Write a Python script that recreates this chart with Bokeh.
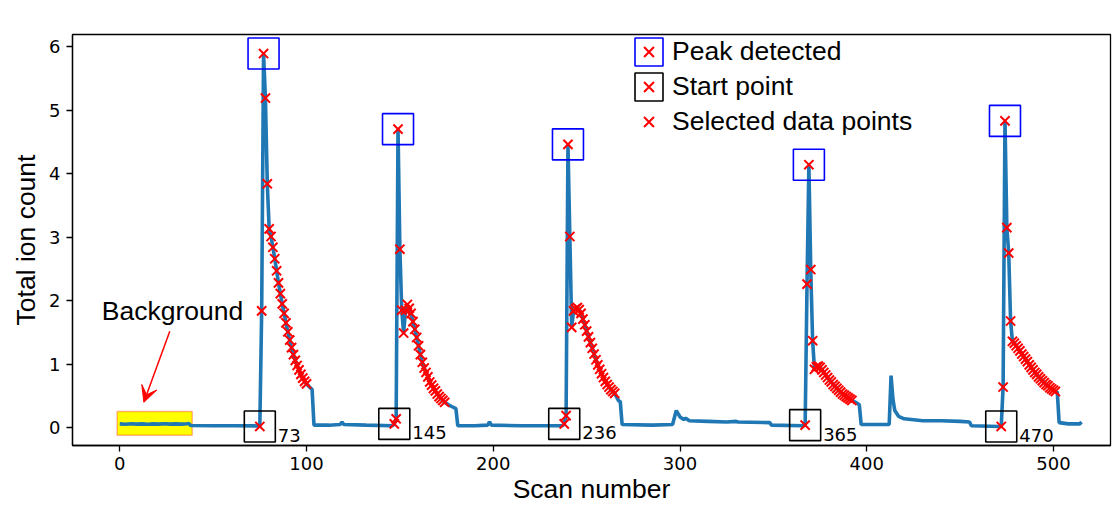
from bokeh.plotting import figure
from bokeh.models import (Legend, LegendItem, Label, Arrow, VeeHead, BoxAnnotation,
                          FixedTicker, ColumnDataSource, Range1d)
from bokeh.embed import file_html
from bokeh.resources import INLINE
from bokeh.core.properties import value

# ---------------- data (total ion count in units of 1e9) ----------------
scan = [0, 3, 6, 9, 12, 15, 18, 21, 24, 27, 30, 33, 36, 37, 38,
        50, 62, 74,
        75, 76, 77, 78, 79,
        80, 81, 82, 83, 84, 85, 86, 87, 88, 89, 90, 91, 92, 93, 94, 95, 96, 97, 98, 99, 100,
        101, 102, 103, 104,
        112, 118, 119, 120, 132, 146,
        147, 148, 149, 150,
        151, 152, 153, 154, 155, 156, 157, 158, 159, 160, 161, 162, 163, 164, 165, 166, 167, 168,
        169, 170, 171, 172, 173, 174,
        176, 178, 180, 181,
        190, 197, 198, 199, 215, 237,
        238, 239, 240, 241, 242,
        243, 244, 245, 246, 247, 248, 249, 250, 251, 252, 253, 254, 255, 256, 257, 258, 259, 260,
        261, 262, 263, 264, 265,
        267, 268, 269,
        285, 296, 298, 300, 302, 303, 305, 315, 325, 330, 331, 348, 349, 366,
        367, 368, 369, 370, 371,
        372, 373, 374, 375, 376, 377, 378, 379, 380, 381, 382, 383, 384, 385, 386, 387, 388, 389,
        390, 391, 392,
        394, 396, 397,
        405, 412, 413, 414, 415, 417, 420, 430, 440, 450, 455, 456, 471,
        472, 473, 474, 475, 476, 477,
        478, 479, 480, 481, 482, 483, 484, 485, 486, 487, 488, 489, 490, 491, 492, 493, 494, 495,
        496, 497, 498, 499, 500, 501,
        502, 503, 508, 514, 515]

tic = [0.060, 0.055, 0.062, 0.056, 0.061, 0.055, 0.060, 0.057, 0.062, 0.056, 0.060, 0.057, 0.063, 0.066, 0.036,
       0.032, 0.030, 0.028,
       0.02, 1.84, 5.89, 5.19, 3.84,
       3.13, 3.01, 2.84, 2.66, 2.47, 2.28, 2.11, 1.95, 1.80, 1.65, 1.51, 1.38, 1.26, 1.15, 1.06, 0.98,
       0.91, 0.84, 0.78, 0.73, 0.69,
       0.66, 0.63, 0.60, 0.04,
       0.04, 0.05, 0.09, 0.05, 0.04, 0.03,
       0.06, 0.14, 4.70, 2.81,
       1.85, 1.49, 1.85, 1.94, 1.88, 1.80, 1.67, 1.55, 1.42, 1.29, 1.15, 1.03, 0.94, 0.87, 0.80, 0.72,
       0.67, 0.62, 0.58, 0.53, 0.49, 0.46, 0.43, 0.40,
       0.36, 0.33, 0.30, 0.03,
       0.03, 0.04, 0.09, 0.04, 0.03, 0.03,
       0.06, 0.19, 4.46, 3.01, 1.58,
       1.84, 1.87, 1.89, 1.86, 1.80, 1.71, 1.62, 1.52, 1.43, 1.34, 1.25, 1.16, 1.07, 0.99, 0.92, 0.85,
       0.79, 0.73, 0.68, 0.64, 0.60, 0.57, 0.54,
       0.43, 0.41, 0.05,
       0.04, 0.05, 0.27, 0.17, 0.13, 0.15, 0.11, 0.10, 0.09, 0.10, 0.09, 0.08, 0.04, 0.03,
       0.04, 2.26, 4.14, 2.49, 1.37,
       0.92, 0.96, 0.97, 0.95, 0.91, 0.87, 0.83, 0.79, 0.75, 0.72, 0.68, 0.65, 0.62, 0.59, 0.56, 0.53,
       0.51, 0.49, 0.47, 0.45, 0.43,
       0.40, 0.36, 0.05,
       0.05, 0.05, 0.82, 0.45, 0.27, 0.18, 0.14, 0.11, 0.11, 0.10, 0.09, 0.03, 0.02,
       0.02, 0.64, 4.83, 3.15, 2.75, 1.68,
       1.36, 1.33, 1.29, 1.25, 1.21, 1.16, 1.12, 1.08, 1.04, 0.99, 0.95, 0.91, 0.87, 0.84, 0.80, 0.77,
       0.74, 0.71, 0.68, 0.66, 0.63, 0.61, 0.59, 0.57,
       0.56, 0.08, 0.06, 0.06, 0.09]

peak_scans = [77, 149, 240, 369, 474]
start_scans = [75, 147, 238, 367, 472]
start_labels = ["73", "145", "236", "365", "470"]
selected_ranges = [(75, 100), (147, 174), (238, 265), (367, 392), (472, 501)]

background_scans = (-1.4, 38.8)
background_levels = (-0.12, 0.255)

x_ticks = [0, 100, 200, 300, 400, 500]
y_ticks = [0, 1, 2, 3, 4, 5, 6]

# ---------------- derived sources ----------------
lookup = dict(zip(scan, tic))
sel_x = [s for s in scan if any(a <= s <= b for a, b in selected_ranges)]
sel_y = [lookup[s] for s in sel_x]
peak_y = [lookup[s] for s in peak_scans]
start_y = [lookup[s] for s in start_scans]

LABEL_FONT = "Liberation Sans"
TICK_FONT = "DejaVu Sans"
BIG = "26.5px"
SMALL = "18px"

p = figure(width=1118, height=506, output_backend="svg", toolbar_location=None,
           x_range=Range1d(-25.3, 530.5), y_range=Range1d(-0.28, 6.19),
           min_border_left=72, min_border_right=8, min_border_top=34, min_border_bottom=59)
p.background_fill_color = "white"
p.border_fill_color = "white"
p.grid.visible = False
p.outline_line_color = "black"
p.outline_line_width = 1.3
p.outline_line_alpha = 1.0

p.xaxis.ticker = FixedTicker(ticks=x_ticks)
p.yaxis.ticker = FixedTicker(ticks=y_ticks)
p.xaxis.axis_label = "Scan number"
p.yaxis.axis_label = "Total ion count"
for ax in (p.xaxis[0], p.yaxis[0]):
    ax.major_tick_out = 6
    ax.major_tick_in = 0
    ax.minor_tick_out = 0
    ax.minor_tick_in = 0
    ax.major_tick_line_width = 1.3
    ax.axis_line_width = 1.3
    ax.major_label_text_font = TICK_FONT
    ax.major_label_text_font_size = SMALL
    ax.major_label_text_color = "black"
    ax.axis_label_text_font = LABEL_FONT
    ax.axis_label_text_font_size = BIG
    ax.axis_label_text_font_style = "normal"
    ax.axis_label_text_color = "black"
p.xaxis.major_label_standoff = 5
p.xaxis.axis_label_standoff = 1
p.yaxis.major_label_standoff = 6
p.yaxis.axis_label_standoff = 5

# background box
p.add_layout(BoxAnnotation(left=background_scans[0], right=background_scans[1],
                           bottom=background_levels[0], top=background_levels[1],
                           fill_color="#ffff00", fill_alpha=1.0, line_color="#ff0000",
                           line_width=1.5, level="underlay"))

# main trace
p.line(scan, tic, line_color="#1f77b4", line_width=3.6)

# boxes
peak_src = ColumnDataSource(dict(x=peak_scans, y=peak_y))
start_src = ColumnDataSource(dict(x=start_scans, y=start_y, label=start_labels))
peak_box = p.rect("x", "y", width=31, height=31, width_units="screen", height_units="screen",
                  source=peak_src, fill_color=None, line_color="#0000ff", line_width=1.6)
start_box = p.rect("x", "y", width=31, height=31, width_units="screen", height_units="screen",
                   source=start_src, fill_color=None, line_color="black", line_width=1.6)

# selected points
sel_r = p.scatter(sel_x, sel_y, marker="x", size=13, line_color="#ff0000", line_width=2)

# start labels
p.text("x", "y", text="label", source=start_src, x_offset=18, y_offset=9,
       text_baseline="alphabetic", text_align="left", text_font=value(TICK_FONT),
       text_font_size=SMALL, text_color="black")

# annotation: Background
p.add_layout(Label(x=-9.6, y=1.83, text="Background", text_baseline="middle",
                   text_font=LABEL_FONT, text_font_size=BIG, text_color="black"))
p.add_layout(Arrow(end=VeeHead(size=16, fill_color="#ff0000", line_color="#ff0000"),
                   x_start=26.8, y_start=1.52, x_end=12.9, y_end=0.40,
                   line_color="#ff0000", line_width=1.5))

# offset text
p.add_layout(Label(x=0, y=418.7, x_units="screen", y_units="screen", text="1e9",
                   text_baseline="alphabetic", text_font=TICK_FONT, text_font_size=SMALL,
                   text_color="black"))

legend = Legend(items=[LegendItem(label="Peak detected", renderers=[peak_box, sel_r]),
                       LegendItem(label="Start point", renderers=[start_box, sel_r]),
                       LegendItem(label="Selected data points", renderers=[sel_r])],
                location=(559, 306), glyph_width=35, glyph_height=35, label_standoff=6,
                spacing=0, padding=0, margin=0, border_line_color=None,
                background_fill_alpha=0.0, label_text_font=LABEL_FONT,
                label_text_font_size=BIG, label_text_color="black")
p.add_layout(legend)

open("out.html", "w").write(file_html(p, INLINE))
